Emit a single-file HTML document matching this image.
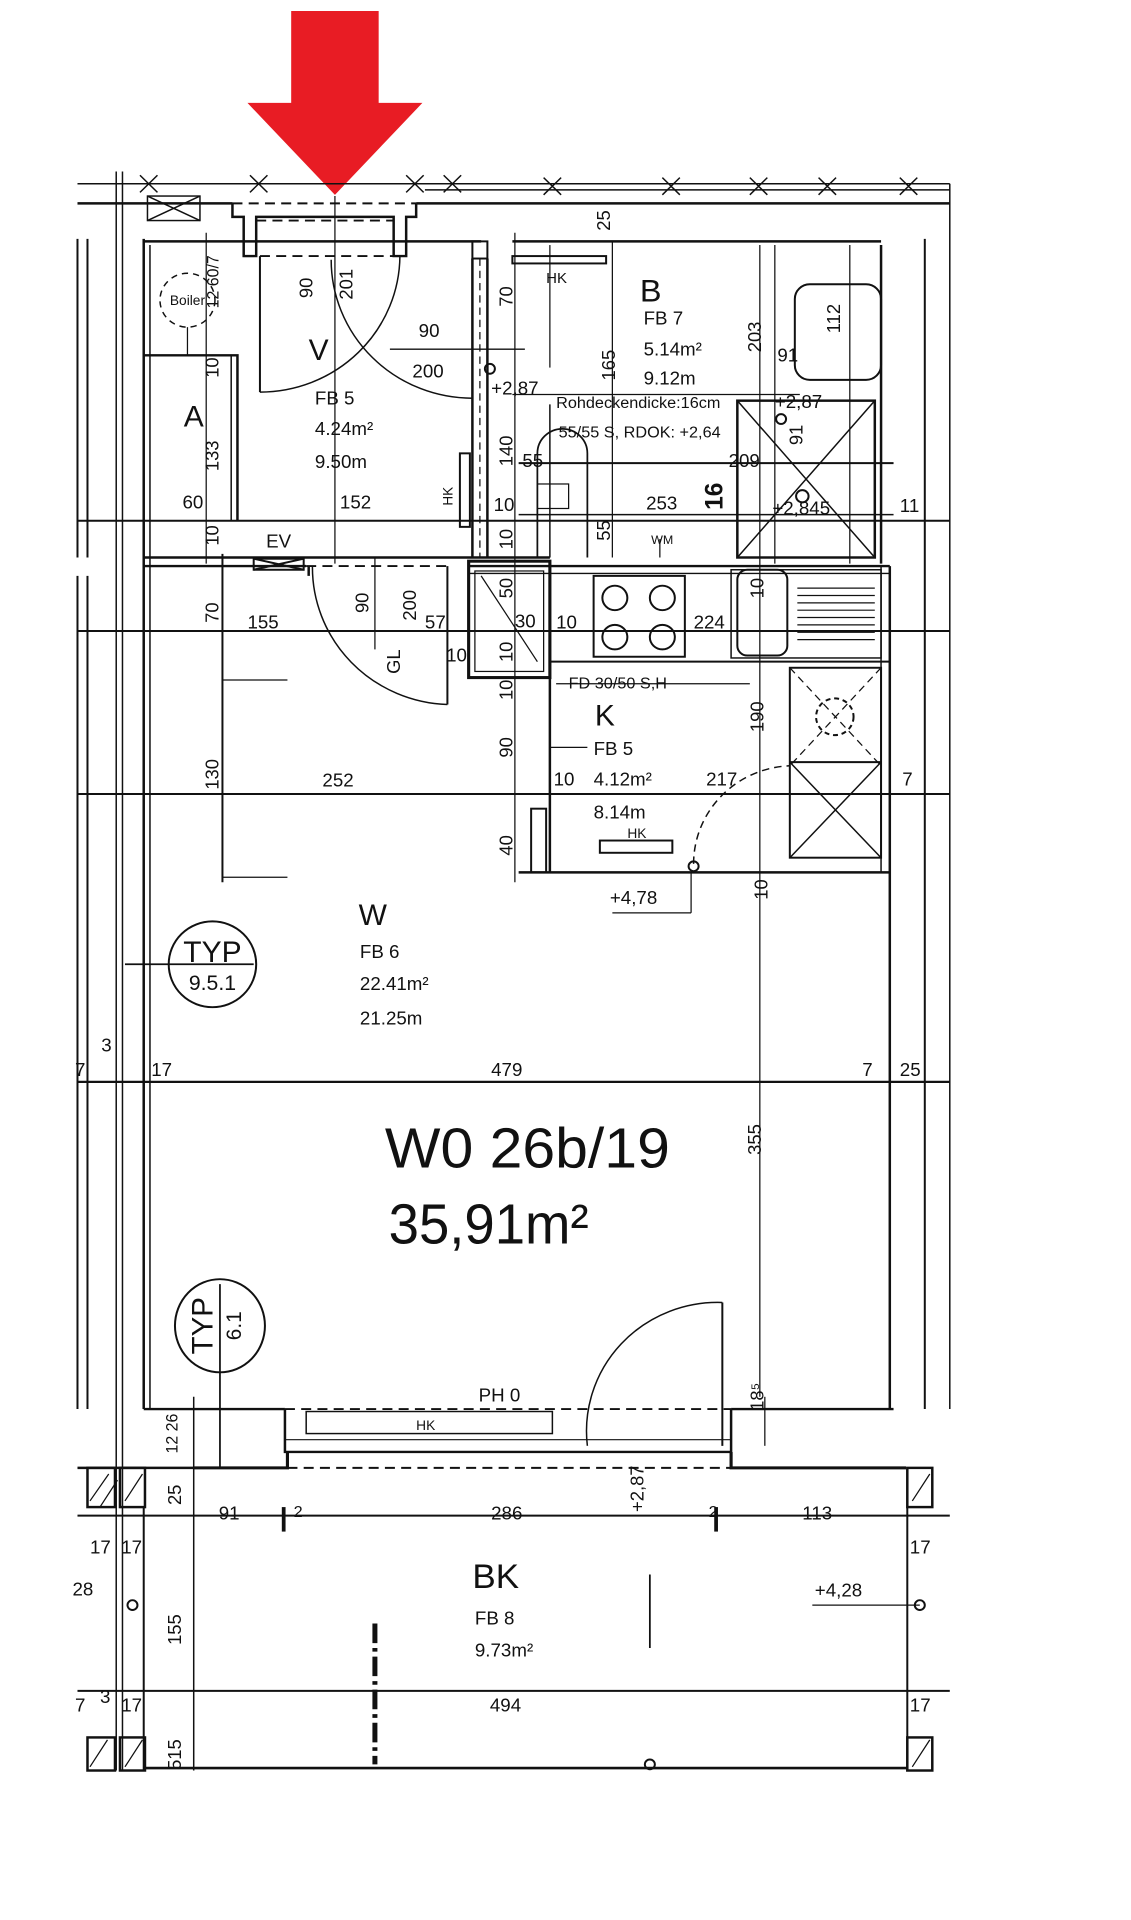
<!DOCTYPE html>
<html><head><meta charset="utf-8"><style>
html,body{margin:0;padding:0;background:#fff;}
svg{display:block}
text{font-family:"Liberation Sans Narrow","Liberation Sans",sans-serif;fill:#111;}
</style></head><body>
<svg width="1131" height="1920" viewBox="0 0 905 1567" preserveAspectRatio="none" xmlns="http://www.w3.org/2000/svg">
<rect width="905" height="1567" fill="#fff"/>
<!-- red arrow -->
<polygon points="233,9 303,9 303,84 338,84 268,159 198,84 233,84" fill="#e81c24"/>
<g stroke="#111" fill="none" stroke-width="1.6">
<!-- top strip -->
<line x1="62" y1="150" x2="760" y2="150" stroke-width="1.2"/>
<line x1="340" y1="155" x2="760" y2="155" stroke-width="1.2"/>
<line x1="62" y1="166" x2="186" y2="166" stroke-width="2"/>
<line x1="333" y1="166" x2="760" y2="166" stroke-width="2"/>
<line x1="186" y1="166" x2="333" y2="166" stroke-dasharray="8,5"/>
<path d="M186,166 V177 H195 V209 H205 V177 H315 V209 H325 V177 H333 V166" stroke-width="2"/>
<line x1="195" y1="209" x2="325" y2="209" stroke-dasharray="8,5"/>
<line x1="205" y1="180" x2="315" y2="180" stroke-dasharray="8,5"/>
<line x1="268" y1="160" x2="268" y2="460" stroke-width="1"/>
<g stroke-width="1.2">
<path d="M112,143 l14,14 M126,143 l-14,14 M200,143 l14,14 M214,143 l-14,14 M325,143 l14,14 M339,143 l-14,14 M355,143 l14,14 M369,143 l-14,14 M435,145 l14,14 M449,145 l-14,14 M530,145 l14,14 M544,145 l-14,14 M600,145 l14,14 M614,145 l-14,14 M655,145 l14,14 M669,145 l-14,14 M720,145 l14,14 M734,145 l-14,14"/>
<rect x="118" y="160" width="42" height="20"/><path d="M118,160 l42,20 M160,160 l-42,20"/>
</g>
<!-- left verticals -->
<line x1="62" y1="195" x2="62" y2="455" />
<line x1="70" y1="195" x2="70" y2="455" />
<line x1="62" y1="470" x2="62" y2="1150"/>
<line x1="70" y1="470" x2="70" y2="1150"/>
<line x1="93" y1="140" x2="93" y2="1445" stroke-width="1.2"/>
<line x1="98" y1="140" x2="98" y2="1445" stroke-width="1.2"/>
<line x1="115" y1="195" x2="115" y2="1150" stroke-width="2"/>
<line x1="120" y1="200" x2="120" y2="1150" stroke-width="1.2"/>
<!-- right walls -->
<line x1="705" y1="200" x2="705" y2="460" stroke-width="2"/>
<line x1="712" y1="462" x2="712" y2="1150" stroke-width="2"/>
<line x1="705" y1="462" x2="705" y2="712" stroke-width="1.2"/>
<line x1="740" y1="195" x2="740" y2="1150" stroke-width="1.6"/>
<line x1="760" y1="150" x2="760" y2="1150" stroke-width="1.2"/>
<!-- inner top wall -->
<line x1="115" y1="197" x2="385" y2="197" stroke-width="2"/>
<line x1="410" y1="197" x2="705" y2="197" stroke-width="2"/>
<rect x="378" y="197" width="12" height="14"/>
<!-- A room -->
<path d="M115,290 H190 V425" stroke-width="2"/>
<line x1="185" y1="290" x2="185" y2="425" stroke-width="1.2"/>
<circle cx="150" cy="245" r="22" stroke-dasharray="5,4" stroke-width="1.2"/>
<line x1="150" y1="267" x2="150" y2="290" stroke-width="1"/>
<line x1="165" y1="190" x2="165" y2="460" stroke-width="1"/>
<!-- V doors -->
<line x1="208" y1="209" x2="208" y2="320" stroke-width="1.6"/>
<path d="M208,320 A112,112 0 0,0 320,209" stroke-width="1.2"/>
<path d="M265,212 A113,113 0 0,0 378,325" stroke-width="1.2"/>
<line x1="312" y1="285" x2="420" y2="285" stroke-width="1.2"/>
<!-- V/B wall -->
<line x1="378" y1="211" x2="378" y2="455" stroke-width="2"/>
<line x1="390" y1="211" x2="390" y2="455" stroke-width="2"/>
<line x1="384" y1="211" x2="384" y2="455" stroke-dasharray="6,4" stroke-width="1"/>
<rect x="368" y="370" width="8" height="60"/>
<line x1="412" y1="190" x2="412" y2="720" stroke-width="1"/>
<rect x="410" y="209" width="75" height="6"/>
<circle cx="392" cy="301" r="4"/>
<!-- horizontal dimension line y425 -->
<line x1="62" y1="425" x2="760" y2="425" stroke-width="1.6"/>
<!-- wall y 455 -->
<line x1="115" y1="455" x2="440" y2="455" stroke-width="2"/>
<line x1="115" y1="462" x2="245" y2="462" stroke-width="2"/>
<line x1="245" y1="462" x2="360" y2="462" stroke-dasharray="8,5"/>
<rect x="203" y="456" width="40" height="9"/><path d="M203,456 l40,9 M243,456 l-40,9"/>
<!-- W door -->
<line x1="247" y1="462" x2="247" y2="470" stroke-width="2"/>
<path d="M250,462 A112,112 0 0,0 358,575" stroke-width="1.2"/>
<line x1="358" y1="462" x2="358" y2="575" stroke-width="1.6"/>
<line x1="300" y1="455" x2="300" y2="530" stroke-width="1"/>
<!-- B bath -->
<line x1="440" y1="330" x2="440" y2="455" stroke-width="1.2"/>
<line x1="440" y1="200" x2="440" y2="300" stroke-width="1"/>
<line x1="490" y1="197" x2="490" y2="455" stroke-width="1"/>
<rect x="636" y="232" width="69" height="78" rx="12"/>
<rect x="590" y="327" width="110" height="128" stroke-width="2"/>
<path d="M590,327 L700,455 M700,327 L590,455" stroke-width="1.2"/>
<line x1="620" y1="200" x2="620" y2="460" stroke-width="1"/>
<line x1="680" y1="200" x2="680" y2="460" stroke-width="1"/>
<line x1="415" y1="378" x2="715" y2="378" stroke-width="1.6"/>
<line x1="415" y1="420" x2="715" y2="420" stroke-width="1.2"/>
<line x1="410" y1="322" x2="640" y2="322" stroke-width="1"/>
<path d="M430,455 V370 A20,20 0 0,1 470,370 V455" stroke-width="1.4"/>
<rect x="430" y="395" width="25" height="20" stroke-width="1"/>
<circle cx="625" cy="342" r="4"/>
<circle cx="642" cy="405" r="5"/>
<line x1="528" y1="440" x2="528" y2="455" stroke-width="1"/>
<!-- kitchen -->
<line x1="375" y1="462" x2="712" y2="462" stroke-width="2"/>
<line x1="375" y1="468" x2="712" y2="468" stroke-width="1.2"/>
<rect x="375" y="458" width="65" height="95" stroke-width="2.5"/>
<rect x="380" y="466" width="55" height="82" stroke-width="1"/>
<path d="M385,470 L430,540" stroke-width="1"/>
<line x1="440" y1="553" x2="440" y2="712" stroke-width="2"/>
<line x1="440" y1="540" x2="712" y2="540" stroke-width="1.6"/>
<rect x="475" y="470" width="73" height="66" stroke-width="1.6"/>
<circle cx="492" cy="488" r="10"/><circle cx="530" cy="488" r="10"/>
<circle cx="492" cy="520" r="10"/><circle cx="530" cy="520" r="10"/>
<rect x="590" y="465" width="40" height="70" rx="8"/>
<rect x="585" y="465" width="120" height="72" stroke-width="1.2"/>
<g stroke-width="1">
<line x1="638" y1="480" x2="700" y2="480"/><line x1="638" y1="486" x2="700" y2="486"/><line x1="638" y1="492" x2="700" y2="492"/><line x1="638" y1="498" x2="700" y2="498"/><line x1="638" y1="504" x2="700" y2="504"/><line x1="638" y1="510" x2="700" y2="510"/><line x1="638" y1="516" x2="700" y2="516"/><line x1="638" y1="522" x2="700" y2="522"/>
</g>
<rect x="632" y="545" width="73" height="155" stroke-width="1.6"/>
<circle cx="668" cy="585" r="15" stroke-dasharray="4,3"/>
<path d="M632,545 L705,625 M705,545 L632,625" stroke-dasharray="6,4" stroke-width="1"/>
<line x1="632" y1="622" x2="705" y2="622"/>
<path d="M632,622 L705,700 M705,622 L632,700" stroke-width="1.2"/>
<path d="M555,705 A80,80 0 0,1 632,625" stroke-dasharray="6,4" stroke-width="1.2"/>
<line x1="415" y1="712" x2="712" y2="712" stroke-width="2"/>
<rect x="425" y="660" width="12" height="52"/>
<rect x="480" y="686" width="58" height="10"/>
<circle cx="555" cy="707" r="4"/>
<line x1="490" y1="745" x2="553" y2="745" stroke-width="1"/>
<line x1="553" y1="712" x2="553" y2="745" stroke-width="1"/>
<line x1="445" y1="558" x2="600" y2="558" stroke-width="1"/>
<line x1="440" y1="610" x2="470" y2="610" stroke-width="1"/>
<!-- W dims -->
<line x1="62" y1="515" x2="760" y2="515" stroke-width="1.6"/>
<line x1="62" y1="648" x2="760" y2="648" stroke-width="1.6"/>
<line x1="178" y1="452" x2="178" y2="720"/>
<line x1="178" y1="555" x2="230" y2="555" stroke-width="1"/>
<line x1="178" y1="716" x2="230" y2="716" stroke-width="1"/>
<line x1="100" y1="787" x2="203" y2="787" stroke-width="1.4"/>
<circle cx="170" cy="787" r="35" stroke-width="1.6"/>
<line x1="62" y1="883" x2="760" y2="883" stroke-width="1.8"/>
<line x1="176" y1="1048" x2="176" y2="1198" stroke-width="1.4"/>
<ellipse cx="176" cy="1082" rx="36" ry="38" stroke-width="1.6"/>
<!-- bottom main wall -->
<line x1="115" y1="1150" x2="228" y2="1150" stroke-width="2"/>
<line x1="585" y1="1150" x2="715" y2="1150" stroke-width="2"/>
<line x1="228" y1="1150" x2="585" y2="1150" stroke-dasharray="8,5"/>
<path d="M228,1150 V1185 H585 V1150" stroke-width="2"/>
<line x1="228" y1="1175" x2="585" y2="1175" stroke-width="1"/>
<rect x="245" y="1152" width="197" height="18" stroke-width="1.2"/>
<path d="M155,1198 H230 V1185 M585,1185 V1198 H725" stroke-width="2.5"/>
<line x1="230" y1="1198" x2="585" y2="1198" stroke-dasharray="8,5" stroke-width="1.6"/>
<line x1="578" y1="1063" x2="578" y2="1180" stroke-width="1.6"/>
<path d="M578,1063 A105,105 0 0,0 470,1180" stroke-width="1.2"/>
<line x1="612" y1="1140" x2="612" y2="1180" stroke-width="1"/>
<line x1="608" y1="200" x2="608" y2="1140" stroke-width="1"/>
<line x1="155" y1="1140" x2="155" y2="1445" stroke-width="1.2"/>
<!-- balcony -->
<line x1="62" y1="1198" x2="155" y2="1198" stroke-width="2"/>
<rect x="70" y="1198" width="22" height="32" stroke-width="2"/>
<rect x="96" y="1198" width="20" height="32" stroke-width="2"/>
<rect x="726" y="1198" width="20" height="32" stroke-width="2"/>
<path d="M72,1225 l15,-22 M80,1230 l14,-22 M100,1225 l14,-22 M730,1225 l14,-22" stroke-width="1"/>
<line x1="115" y1="1230" x2="115" y2="1445" stroke-width="1.6"/>
<line x1="726" y1="1230" x2="726" y2="1445" stroke-width="1.6"/>
<line x1="62" y1="1237" x2="760" y2="1237" stroke-width="1.6"/>
<line x1="62" y1="1380" x2="760" y2="1380" stroke-width="1.6"/>
<line x1="115" y1="1443" x2="726" y2="1443" stroke-width="2.2"/>
<rect x="70" y="1418" width="22" height="27" stroke-width="2"/>
<rect x="96" y="1418" width="20" height="27" stroke-width="2"/>
<rect x="726" y="1418" width="20" height="27" stroke-width="2"/>
<path d="M72,1442 l14,-22 M100,1442 l14,-22 M730,1442 l14,-22" stroke-width="1"/>
<line x1="300" y1="1325" x2="300" y2="1440" stroke-width="4" stroke-dasharray="16,4,3,4"/>
<circle cx="106" cy="1310" r="4"/><circle cx="736" cy="1310" r="4"/><circle cx="520" cy="1440" r="4"/>
<line x1="650" y1="1310" x2="736" y2="1310" stroke-width="1"/>
<line x1="520" y1="1285" x2="520" y2="1345" stroke-width="1.4"/>
<line x1="227" y1="1230" x2="227" y2="1250" stroke-width="3"/>
<line x1="573" y1="1230" x2="573" y2="1250" stroke-width="3"/>
</g>
<!-- texts -->
<g font-size="15">
<text x="150" y="249" font-size="11" text-anchor="middle">Boiler</text>
<text x="247" y="294" font-size="24">V</text>
<text x="252" y="330">FB 5</text>
<text x="252" y="355">4.24m²</text>
<text x="252" y="382">9.50m</text>
<text x="147" y="348" font-size="24">A</text>
<text x="146" y="415">60</text><text x="272" y="415">152</text>
<text x="213" y="447">EV</text>
<text x="335" y="275">90</text><text x="330" y="308">200</text>
<text x="393" y="322">+2,87</text>
<text x="437" y="231" font-size="12">HK</text>
<text x="512" y="246" font-size="26">B</text>
<text x="515" y="265">FB 7</text>
<text x="515" y="290">5.14m²</text>
<text x="515" y="314">9.12m</text>
<text x="445" y="333" font-size="13">Rohdeckendicke:16cm</text>
<text x="447" y="357" font-size="13">55/55 S, RDOK: +2,64</text>
<text x="620" y="333">+2,87</text>
<text x="622" y="295">91</text>
<text x="583" y="381">209</text>
<text x="517" y="416">253</text>
<text x="618" y="420">+2,845</text>
<text x="720" y="418">11</text>
<text x="418" y="381">55</text>
<text x="395" y="417">10</text>
<text x="521" y="444" font-size="10">WM</text>
<text x="445" y="513">10</text><text x="555" y="513">224</text>
<text x="412" y="512">30</text>
<text x="455" y="562" font-size="13">FD 30/50 S,H</text>
<text x="476" y="592" font-size="24">K</text>
<text x="475" y="616">FB 5</text>
<text x="443" y="641">10</text><text x="475" y="641">4.12m²</text><text x="565" y="641">217</text>
<text x="475" y="668">8.14m</text>
<text x="502" y="684" font-size="11">HK</text>
<text x="722" y="641">7</text>
<text x="488" y="738">+4,78</text>
<text x="357" y="540">10</text>
<text x="198" y="513">155</text><text x="340" y="513">57</text>
<text x="258" y="642">252</text>
<text x="287" y="755" font-size="24">W</text>
<text x="288" y="782">FB 6</text>
<text x="288" y="808">22.41m²</text>
<text x="288" y="836">21.25m</text>
<text x="170" y="785" font-size="24" text-anchor="middle">TYP</text>
<text x="170" y="808" font-size="17" text-anchor="middle">9.5.1</text>
<text x="81" y="858">3</text><text x="60" y="878">7</text><text x="121" y="878">17</text>
<text x="393" y="878">479</text><text x="690" y="878">7</text><text x="720" y="878">25</text>
<text x="308" y="953" font-size="46" textLength="228" lengthAdjust="spacingAndGlyphs">W0 26b/19</text>
<text x="311" y="1015" font-size="46" textLength="160" lengthAdjust="spacingAndGlyphs">35,91m²</text>
<text x="383" y="1144">PH 0</text>
<text x="333" y="1167" font-size="11">HK</text>
<text x="175" y="1240">91</text><text x="235" y="1238" font-size="13">2</text>
<text x="393" y="1240">286</text><text x="567" y="1238" font-size="13">2</text><text x="642" y="1240">113</text>
<text x="72" y="1268">17</text><text x="97" y="1268">17</text><text x="728" y="1268">17</text>
<text x="58" y="1302">28</text>
<text x="652" y="1303">+4,28</text>
<text x="378" y="1296" font-size="28">BK</text>
<text x="380" y="1326">FB 8</text>
<text x="380" y="1352">9.73m²</text>
<text x="60" y="1397">7</text><text x="80" y="1390">3</text><text x="97" y="1397">17</text>
<text x="392" y="1397">494</text><text x="728" y="1397">17</text>
</g>
<g font-size="15" text-anchor="middle">
<text transform="translate(488,180) rotate(-90)">25</text>
<text transform="translate(250,235) rotate(-90)">90</text>
<text transform="translate(282,232) rotate(-90)">201</text>
<text transform="translate(175,230) rotate(-90)" font-size="13">12 60/7</text>
<text transform="translate(175,300) rotate(-90)">10</text>
<text transform="translate(175,372) rotate(-90)">133</text>
<text transform="translate(175,437) rotate(-90)">10</text>
<text transform="translate(410,242) rotate(-90)">70</text>
<text transform="translate(492,298) rotate(-90)">165</text>
<text transform="translate(609,275) rotate(-90)">203</text>
<text transform="translate(672,260) rotate(-90)">112</text>
<text transform="translate(642,355) rotate(-90)">91</text>
<text transform="translate(578,405) rotate(-90)" font-size="20" font-weight="bold">16</text>
<text transform="translate(410,368) rotate(-90)">140</text>
<text transform="translate(410,440) rotate(-90)">10</text>
<text transform="translate(488,433) rotate(-90)">55</text>
<text transform="translate(362,405) rotate(-90)" font-size="11">HK</text>
<text transform="translate(410,480) rotate(-90)">50</text>
<text transform="translate(410,532) rotate(-90)">10</text>
<text transform="translate(611,480) rotate(-90)">10</text>
<text transform="translate(410,563) rotate(-90)">10</text>
<text transform="translate(410,610) rotate(-90)">90</text>
<text transform="translate(611,585) rotate(-90)">190</text>
<text transform="translate(410,690) rotate(-90)">40</text>
<text transform="translate(614,726) rotate(-90)">10</text>
<text transform="translate(175,500) rotate(-90)">70</text>
<text transform="translate(295,492) rotate(-90)">90</text>
<text transform="translate(333,494) rotate(-90)">200</text>
<text transform="translate(320,540) rotate(-90)">GL</text>
<text transform="translate(175,632) rotate(-90)">130</text>
<text transform="translate(609,930) rotate(-90)">355</text>
<text transform="translate(170,1082) rotate(-90)" font-size="24">TYP</text>
<text transform="translate(193,1082) rotate(-90)" font-size="17">6.1</text>
<text transform="translate(611,1140) rotate(-90)">18⁵</text>
<text transform="translate(142,1170) rotate(-90)" font-size="13">12 26</text>
<text transform="translate(515,1215) rotate(-90)">+2,87</text>
<text transform="translate(145,1220) rotate(-90)">25</text>
<text transform="translate(145,1330) rotate(-90)">155</text>
<text transform="translate(145,1432) rotate(-90)">515</text>
</g>
</svg>
</body></html>
